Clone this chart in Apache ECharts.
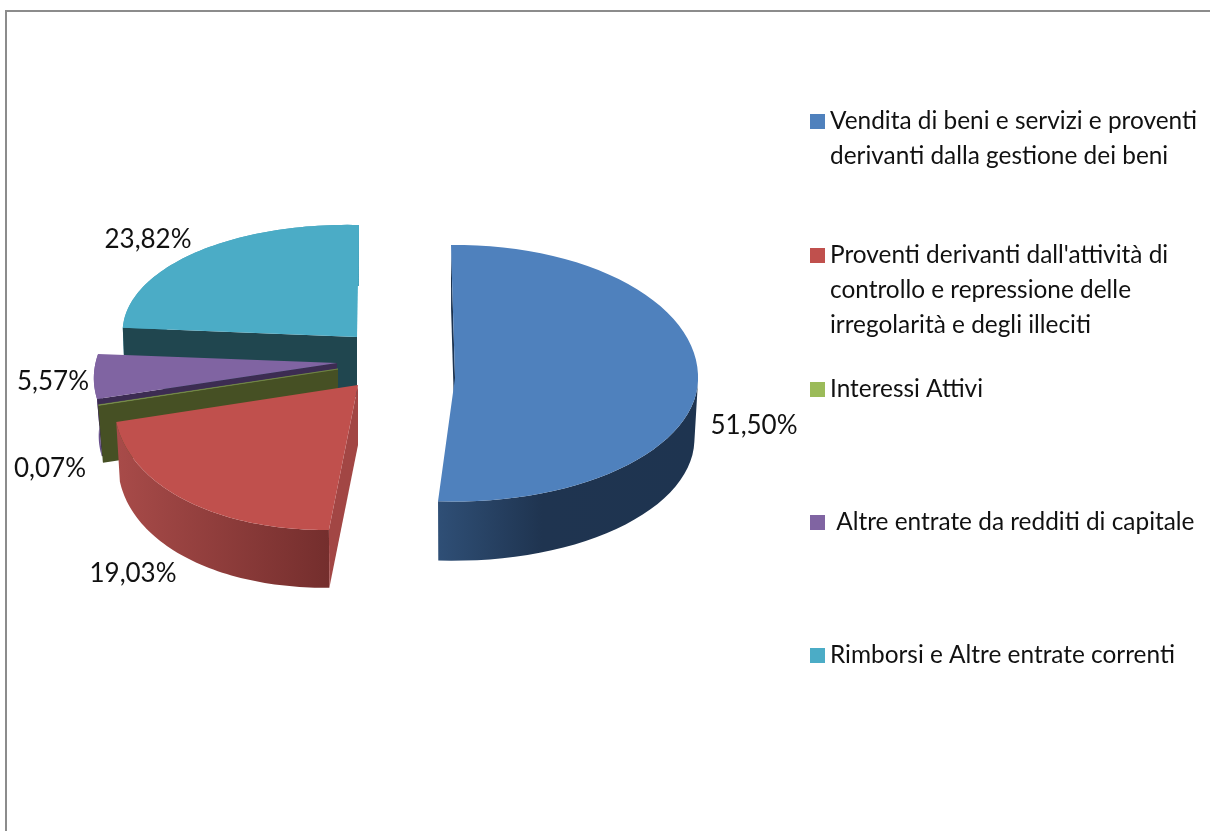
<!DOCTYPE html>
<html>
<head>
<meta charset="utf-8">
<title>Entrate correnti</title>
<style>
html, body { margin: 0; padding: 0; background: #fff; }
#main { width: 1210px; height: 831px; }
</style>
<script src="https://cdn.jsdelivr.net/npm/echarts@6/dist/echarts.min.js"></script>
</head>
<body>
<div id="main"></div>
<script>
var categories = [
    'Vendita di beni e servizi e proventi\nderivanti dalla gestione dei beni',
    "Proventi derivanti dall'attività di\ncontrollo e repressione delle\nirregolarità e degli illeciti",
    'Interessi Attivi',
    ' Altre entrate da redditi di capitale',
    'Rimborsi e Altre entrate correnti'
];
var values = [51.50, 19.03, 0.07, 5.57, 23.82];
var colors = ['#4f81bd', '#c0504d', '#9bbb59', '#8064a2', '#4bacc6'];

// the pie is a hand-tilted 3D one, so each slice has its own projection
var shapes = [
    { ax: 455, ay: 378, ux: 243, uy: -3, vxUp: -4, vxDown: -6, vyUp: -133, vyDown: -123.5, bulge: 0, depth: 61, scale: 0.985 },
    { ax: 358, ay: 385, ux: 250, uy: 3.6, vxUp: 5.5, vxDown: 5.5, vyUp: -146, vyDown: -146, bulge: 0.05, depth: 60, scale: 0.985 },
    { ax: 338, ay: 369, ux: 241.6, uy: -0.5, vxUp: 27.6, vxDown: 27.6, vyUp: -130, vyDown: -130, bulge: 0, depth: 58, scale: 0.98 },
    { ax: 337, ay: 363, ux: 241.6, uy: -0.5, vxUp: 27.6, vxDown: 27.6, vyUp: -130, vyDown: -130, bulge: 0, depth: 58, scale: 0.98 },
    { ax: 357, ay: 337, ux: 235, uy: 1, vxUp: 2, vxDown: 2, vyUp: -112, vyDown: -112, bulge: 0.02, depth: 60, scale: 0.99 }
];
var wallFaces = ['#1c3350', '#a24644', '#465024', '#3c2c52', '#20464f'];
var wallRims = [
    [[0, '#2f4f76'], [0.4, '#1f3450'], [1, '#1e3450']],
    [[0, '#a84b49'], [1, '#742e2d']],
    [[0, '#465024'], [1, '#465024']],
    [[0, '#7a5f9c'], [1, '#5d4680']],
    [[0, '#45a1ba'], [1, '#45a1ba']]
];
var labelPos = [[754, 426], [133, 574], [50, 469], [53, 382], [148, 240]];
var legendTops = [69, 168, 372, 505, 638];
var drawOrder = [4, 3, 2, 0, 1];

var total = values.reduce(function (a, b) { return a + b; }, 0);

function rimPoint(s, deg, t, lower) {
    var a = deg * Math.PI / 180;
    var sin = Math.sin(a), cos = Math.cos(a);
    var k = 1 + s.bulge * Math.sin(Math.PI * t);
    var dx = (s.ux * sin + (cos > 0 ? s.vxUp : s.vxDown) * cos) * k;
    var dy = (s.uy * sin + (cos > 0 ? s.vyUp : s.vyDown) * cos) * k;
    if (lower) {
        return [s.ax + dx * s.scale, s.ay + s.depth + dy * s.scale];
    }
    return [s.ax + dx, s.ay + dy];
}

function sliceRenderer(idx) {
    return function (params, api) {
        var s = shapes[idx];
        var before = values.slice(0, idx).reduce(function (a, b) { return a + b; }, 0);
        var start = before / total * 360;
        var end = (before + api.value(0)) / total * 360;
        var upper = [], lower = [];
        var wallUp = [], wallLow = [];
        var steps = 60;
        for (var i = 0; i <= steps; i++) {
            var t = i / steps;
            var deg = start + (end - start) * t;
            upper.push(rimPoint(s, deg, t, false));
            lower.push(rimPoint(s, deg, t, true));
            // the back half of the rim is hidden, and its strip would fold over itself
            if (start > 90 || deg >= 90) {
                wallUp.push(upper[i]);
                wallLow.push(lower[i]);
            }
        }
        var apex = [s.ax, s.ay];
        var apexLow = [s.ax, s.ay + s.depth];
        var rimFill = new echarts.graphic.LinearGradient(0, 0, 1, 0, wallRims[idx].map(function (c) {
            return { offset: c[0], color: c[1] };
        }));
        var pos = labelPos[idx];
        return {
            type: 'group',
            children: [
                {
                    type: 'polygon',
                    shape: { points: wallUp.concat(wallLow.slice().reverse()) },
                    style: { fill: rimFill }
                },
                {
                    type: 'polygon',
                    shape: { points: [apex, upper[0], lower[0], apexLow] },
                    style: { fill: wallFaces[idx] }
                },
                {
                    type: 'polygon',
                    shape: { points: [apex].concat(upper) },
                    style: { fill: colors[idx], stroke: idx === 2 ? '#7f9a49' : null, lineWidth: 0.5 }
                },
                {
                    type: 'text',
                    style: {
                        x: pos[0],
                        y: pos[1],
                        text: api.value(0).toFixed(2).replace('.', ',') + '%',
                        fill: '#111',
                        font: '26px Lato',
                        textAlign: 'center',
                        textVerticalAlign: 'middle'
                    }
                }
            ]
        };
    };
}

var chart = echarts.init(document.getElementById('main'));

var option = {
    animation: false,
    backgroundColor: '#fff',
    legend: categories.map(function (name, i) {
        var lines = name.split('\n').length;
        return {
            data: [name],
            left: 810,
            top: legendTops[i],
            padding: 0,
            orient: 'vertical',
            icon: 'rect',
            itemWidth: 15,
            itemHeight: 15,
            itemGap: 0,
            selectedMode: false,
            // blank lines above keep the marker level with the first text line
            formatter: function (n) {
                return ' \n'.repeat(lines - 1) + n;
            },
            textStyle: {
                color: '#111',
                fontFamily: 'Lato',
                fontSize: 24.4,
                lineHeight: 35
            }
        };
    }),
    graphic: [
        { type: 'rect', shape: { x: 5, y: 10, width: 1205, height: 2 }, style: { fill: '#8c8c8c' }, silent: true },
        { type: 'rect', shape: { x: 5, y: 10, width: 2, height: 821 }, style: { fill: '#8c8c8c' }, silent: true }
    ],
    series: drawOrder.map(function (i) {
        return {
            name: categories[i],
            type: 'custom',
            coordinateSystem: 'none',
            silent: true,
            itemStyle: { color: colors[i] },
            renderItem: sliceRenderer(i),
            data: [[values[i]]]
        };
    })
};

chart.setOption(option);
</script>
</body>
</html>
